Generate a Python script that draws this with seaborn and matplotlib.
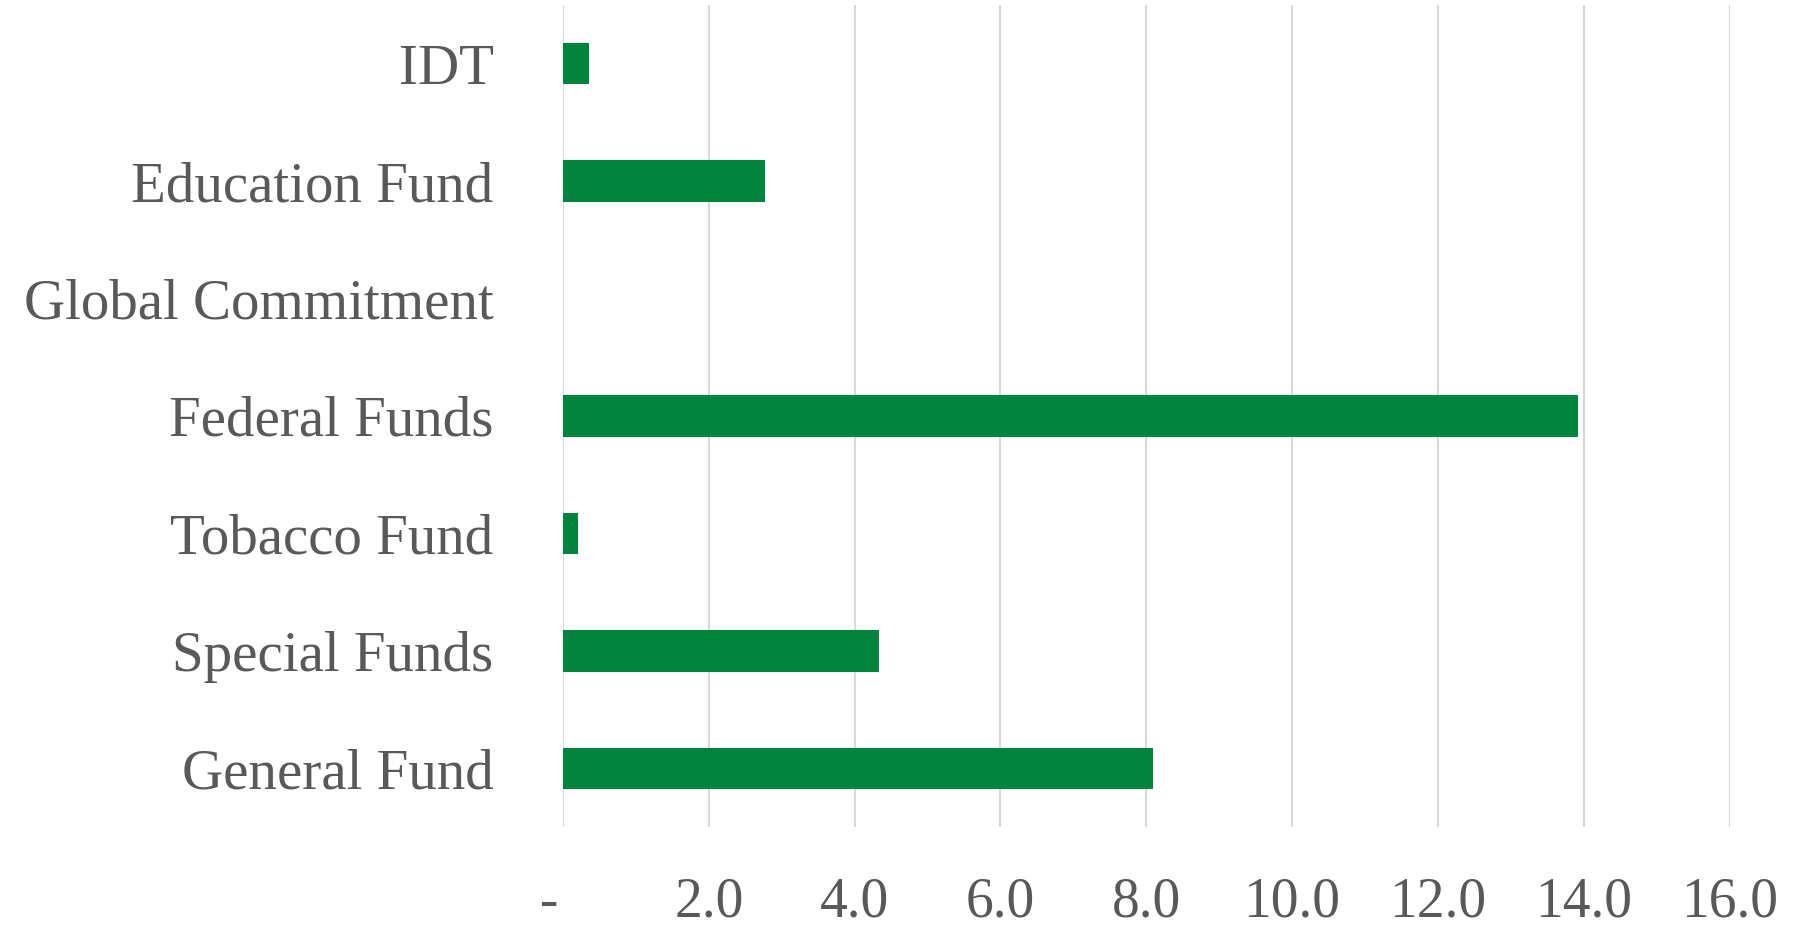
import matplotlib
matplotlib.use("Agg")
import matplotlib.pyplot as plt
import matplotlib.transforms as mtransforms
import seaborn as sns
import pandas as pd

# data
funds = ['IDT', 'Education Fund', 'Global Commitment', 'Federal Funds',
         'Tobacco Fund', 'Special Funds', 'General Fund']
amounts = [0.36, 2.77, 0.0, 13.92, 0.21, 4.33, 8.09]
x_ticks = [0, 2, 4, 6, 8, 10, 12, 14, 16]
x_tick_labels = ['-', '2.0', '4.0', '6.0', '8.0', '10.0', '12.0', '14.0', '16.0']

bar_color = '#00843D'
text_color = '#595959'
grid_color = '#D9D9D9'

sns.set_theme(style='white')
plt.rcParams['font.family'] = ['Liberation Serif', 'DejaVu Serif']

df = pd.DataFrame({'fund': funds, 'amount': amounts})

fig = plt.figure(figsize=(17.96, 9.27), dpi=100)
ax = fig.add_axes([0.3135, 0.1079, 0.963 - 0.3135, 0.9946 - 0.1079])

sns.barplot(data=df, x='amount', y='fund', order=funds, color=bar_color,
            width=0.353, saturation=1, linewidth=0, ax=ax)

ax.set_xlim(0, 16)
ax.set_xticks(x_ticks)
ax.set_xticklabels(x_tick_labels)
ax.set_xlabel('')
ax.set_ylabel('')
ax.set_axisbelow(True)
ax.grid(axis='x', color=grid_color, linewidth=1.5)
ax.grid(axis='y', visible=False)
for s in ax.spines.values():
    s.set_visible(False)

ax.tick_params(axis='y', length=0, pad=50, labelsize=41, labelcolor=text_color)
ax.tick_params(axis='x', length=0, pad=36, labelsize=40, labelcolor=text_color)

# the dash for zero sits a little left of the axis line
offset = mtransforms.ScaledTranslation(-14 / 100, 0, fig.dpi_scale_trans)
lbl = ax.get_xticklabels()[0]
lbl.set_transform(lbl.get_transform() + offset)

fig.savefig('out.png', dpi=100)
